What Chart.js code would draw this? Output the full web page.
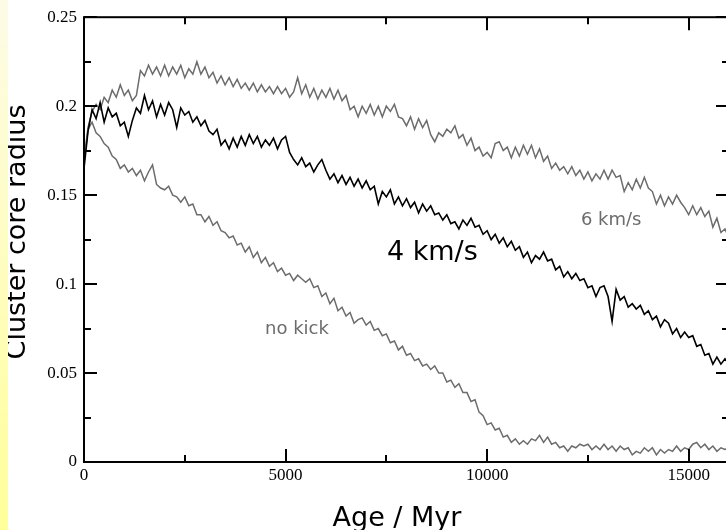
<!DOCTYPE html>
<html><head><meta charset="utf-8">
<script src="https://cdn.jsdelivr.net/npm/chart.js@4/dist/chart.umd.min.js"></script>
<style>
html,body{margin:0;padding:0;background:#fff;overflow:hidden;width:726px;height:530px;}
#wrap{position:absolute;left:0;top:0;width:740px;height:530px;}
#strip{position:absolute;left:0;top:0;width:8px;height:530px;background:linear-gradient(to bottom,#fdfbe6,#ffff9a);z-index:2}
</style></head>
<body>
<div id="strip"></div>
<div id="wrap"><canvas id="c" width="740" height="530"></canvas></div>
<script>
// sampling interval of all three series (Myr)
const ageStepMyr = 100;

// core radius, 4 km/s kick
const kick4 = [
.165,.186,.198,.193,.202,.191,.199,.194,.196,.189,
.191,.183,.192,.199,.196,.206,.198,.203,.194,.201,
.195,.202,.198,.188,.199,.195,.197,.191,.194,.189,
.192,.186,.184,.187,.178,.181,.176,.182,.177,.183,
.178,.184,.179,.183,.177,.181,.178,.182,.176,.181,
.183,.174,.170,.167,.171,.166,.168,.163,.167,.170,
.164,.159,.162,.157,.161,.156,.160,.155,.159,.154,
.158,.153,.155,.145,.152,.149,.153,.145,.149,.144,
.148,.143,.146,.140,.145,.141,.144,.139,.140,.136,
.139,.134,.135,.131,.136,.133,.137,.132,.133,.128,
.130,.125,.128,.123,.126,.121,.124,.119,.121,.115,
.118,.112,.116,.114,.118,.113,.114,.108,.110,.104,
.107,.103,.106,.102,.103,.098,.099,.093,.098,.099,
.093,.079,.097,.091,.093,.087,.089,.086,.088,.083,
.085,.080,.082,.076,.080,.078,.072,.075,.070,.073,
.070,.071,.065,.066,.060,.061,.055,.059,.055,.058,
.055];

// core radius, 6 km/s kick
const kick6 = [
.170,.188,.197,.201,.198,.205,.202,.209,.205,.212,
.206,.209,.203,.206,.220,.217,.223,.218,.222,.217,
.223,.217,.222,.218,.223,.216,.221,.218,.225,.218,
.222,.216,.219,.213,.217,.212,.216,.211,.215,.210,
.213,.209,.213,.208,.212,.208,.211,.207,.211,.207,
.210,.205,.208,.216,.207,.212,.205,.210,.204,.209,
.205,.210,.204,.209,.203,.206,.198,.200,.194,.200,
.196,.201,.195,.200,.194,.200,.197,.201,.194,.193,
.189,.194,.187,.193,.188,.192,.184,.180,.185,.183,
.187,.185,.189,.182,.184,.178,.182,.175,.177,.172,
.174,.171,.179,.180,.175,.177,.171,.177,.172,.178,
.173,.178,.171,.176,.169,.172,.165,.168,.164,.166,
.162,.166,.161,.164,.159,.163,.158,.162,.159,.164,
.159,.164,.160,.161,.152,.157,.153,.159,.154,.160,
.154,.152,.145,.150,.144,.149,.145,.150,.146,.143,
.139,.144,.139,.143,.138,.141,.132,.137,.129,.131,
.126];

// core radius, no kick
const noKick = [
.168,.187,.191,.185,.183,.179,.177,.172,.170,.165,
.167,.163,.165,.161,.164,.158,.163,.167,.156,.154,
.153,.155,.150,.149,.146,.149,.144,.145,.139,.139,
.135,.138,.133,.135,.130,.129,.126,.127,.122,.123,
.118,.121,.115,.118,.112,.115,.110,.112,.107,.109,
.105,.106,.102,.105,.103,.101,.103,.098,.099,.093,
.095,.089,.092,.085,.087,.082,.084,.078,.080,.081,
.077,.079,.074,.075,.071,.072,.067,.068,.063,.065,
.060,.061,.057,.058,.054,.055,.052,.054,.050,.050,
.045,.046,.042,.044,.039,.039,.034,.035,.028,.026,
.021,.022,.018,.019,.014,.015,.011,.013,.010,.012,
.010,.013,.012,.015,.011,.014,.010,.011,.008,.009,
.006,.009,.008,.010,.009,.010,.007,.009,.007,.010,
.007,.009,.006,.009,.007,.008,.004,.006,.005,.008,
.006,.008,.004,.007,.005,.007,.006,.009,.006,.008,
.007,.010,.011,.008,.010,.007,.009,.006,.008,.007,
.008];

const seriesNames = ['4 km/s', '6 km/s', 'no kick'];
const labelAges = [7514, 12326, 4490];
const labelRadii = [0.1133, 0.1333, 0.0722];

const xTickValues = [0, 5000, 10000, 15000];
const xTickLabels = ['0', '5000', '10000', '15000'];
const xMinorValues = [2500, 7500, 12500];
const yTickValues = [0, 0.05, 0.1, 0.15, 0.2, 0.25];
const yTickLabels = ['0', '0.05', '0.1', '0.15', '0.2', '0.25'];
const yMinorValues = [0.025, 0.075, 0.125, 0.175, 0.225];
const xTitle = 'Age / Myr';
const yTitle = 'Cluster core radius';

const toPoints = arr => arr.map((v, i) => ({x: i * ageStepMyr, y: v}));

const GRAY = '#6c6c6c';
const SANS = '"DejaVu Sans", sans-serif';
const SERIF = '"Liberation Serif", serif';

const framePlugin = {
  id: 'frame',
  afterDatasetsDraw(chart) {
    const {ctx, chartArea: a, scales: {x, y}} = chart;
    ctx.save();
    ctx.strokeStyle = '#000';
    ctx.lineWidth = 2;
    ctx.strokeRect(a.left, a.top, a.right - a.left, a.bottom - a.top);
    ctx.beginPath();
    const tx = (v, len) => { const p = Math.round(x.getPixelForValue(v));
      ctx.moveTo(p, a.bottom); ctx.lineTo(p, a.bottom - len);
      ctx.moveTo(p, a.top); ctx.lineTo(p, a.top + len); };
    const ty = (v, len) => { const p = Math.round(y.getPixelForValue(v));
      ctx.moveTo(a.left, p); ctx.lineTo(a.left + len, p);
      ctx.moveTo(a.right, p); ctx.lineTo(a.right - len, p); };
    xTickValues.forEach(v => tx(v, 13));
    xMinorValues.forEach(v => tx(v, 7));
    yTickValues.forEach(v => ty(v, 13));
    yMinorValues.forEach(v => ty(v, 7));
    ctx.stroke();
    ctx.restore();
  }
};

const textPlugin = {
  id: 'texts',
  afterDraw(chart) {
    const {ctx, scales: {x, y}} = chart;
    ctx.save();
    const styles = [
      {color: '#000', size: 27},
      {color: GRAY, size: 18},
      {color: GRAY, size: 18}
    ];
    seriesNames.forEach((name, i) => {
      ctx.fillStyle = styles[i].color;
      ctx.font = styles[i].size + 'px ' + SANS;
      ctx.textAlign = 'left';
      ctx.textBaseline = 'alphabetic';
      ctx.fillText(name, x.getPixelForValue(labelAges[i]), y.getPixelForValue(labelRadii[i]));
    });
    ctx.fillStyle = '#000';
    ctx.font = '27px ' + SANS;
    ctx.textAlign = 'center';
    ctx.textBaseline = 'alphabetic';
    ctx.fillText(xTitle, 397, 526);
    ctx.translate(18, 232);
    ctx.rotate(-Math.PI / 2);
    ctx.textBaseline = 'middle';
    ctx.fillText(yTitle, 0, 0);
    ctx.restore();
  }
};

new Chart(document.getElementById('c'), {
  type: 'line',
  data: {
    datasets: [
      {label: seriesNames[0], data: toPoints(kick4), borderColor: '#000', borderWidth: 1.6},
      {label: seriesNames[1], data: toPoints(kick6), borderColor: GRAY, borderWidth: 1.5},
      {label: seriesNames[2], data: toPoints(noKick), borderColor: GRAY, borderWidth: 1.5}
    ]
  },
  options: {
    responsive: false,
    devicePixelRatio: 1,
    animation: false,
    events: [],
    layout: {padding: {left: 0, top: 12, right: 11, bottom: 0}},
    elements: {point: {radius: 0}, line: {tension: 0, fill: false}},
    plugins: {legend: {display: false}, tooltip: {enabled: false}},
    scales: {
      x: {
        type: 'linear', min: 0, max: 16000,
        grid: {display: false, drawTicks: false},
        border: {display: false},
        afterFit: s => { s.height = 68; },
        afterBuildTicks: s => { s.ticks = xTickValues.map(v => ({value: v})); },
        ticks: {
          autoSkip: false, maxRotation: 0, padding: 3,
          color: '#000', font: {family: SERIF, size: 17},
          callback: (v) => xTickLabels[xTickValues.indexOf(v)]
        }
      },
      y: {
        type: 'linear', min: 0, max: 0.25,
        grid: {display: false, drawTicks: false},
        border: {display: false},
        afterFit: s => { s.width = 84; },
        afterBuildTicks: s => { s.ticks = yTickValues.map(v => ({value: v})); },
        ticks: {
          autoSkip: false, padding: 7,
          color: '#000', font: {family: SERIF, size: 17},
          callback: (v) => yTickLabels[yTickValues.indexOf(v)]
        }
      }
    }
  },
  plugins: [framePlugin, textPlugin]
});
</script>
</body></html>
